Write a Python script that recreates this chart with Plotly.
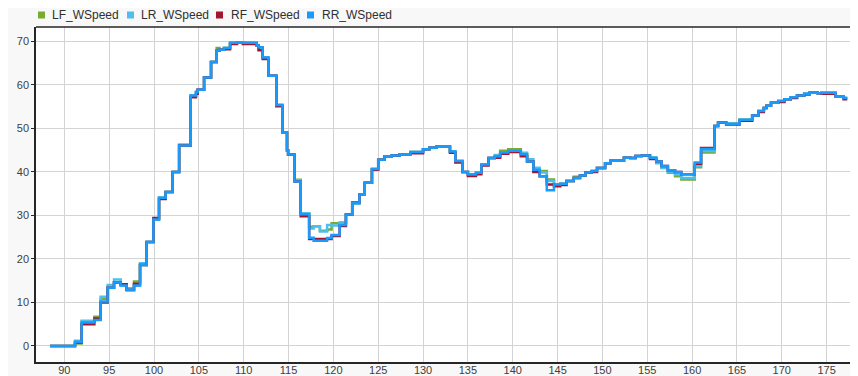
import plotly.graph_objects as go

# Step change times (s) shared by all four wheels
t = [88.4, 91.19, 91.93, 93.35, 94.05, 94.83, 95.54, 96.28, 96.95, 97.77,
     98.44, 99.18, 99.93, 100.56, 101.3, 102.08, 102.8, 104.09, 104.68, 104.87,
     105.58, 106.36, 106.99, 107.3, 107.8, 108.48, 109.26, 109.9, 111.45, 111.65,
     112.12, 112.75, 113.64, 114.31, 114.83, 114.95, 115.65, 116.36, 117.3, 117.8,
     118.5, 119.3, 119.8, 120.7, 121.4, 122.1, 122.9, 123.5, 124.3, 125.0,
     125.7, 126.5, 127.4, 128.6, 130.0, 130.7, 131.5, 133.0, 133.6, 134.4,
     135.0, 135.9, 136.5, 137.3, 138.0, 138.6, 139.5, 140.9, 141.6, 142.3,
     143.0, 143.8, 144.6, 145.3, 146.0, 146.8, 147.5, 148.1, 148.8, 149.4,
     150.3, 150.9, 152.4, 153.1, 153.7, 154.4, 155.3, 156.0, 156.6, 157.3,
     158.1, 158.8, 160.3, 161.0, 162.5, 162.9, 163.8, 165.3, 166.7, 167.4,
     168.0, 168.3, 168.8, 169.6, 170.3, 171.0, 171.7, 172.5, 173.1, 174.0,
     174.4, 176.0, 176.9, 177.3]

rr = [0.0, 1.0, 5.4, 6.0, 10.2, 13.4, 14.6, 13.9, 12.9, 13.9,
      18.6, 23.9, 29.1, 34.1, 35.4, 40.0, 46.1, 57.6, 58.4, 58.9,
      61.7, 65.3, 67.9, 68.1, 68.5, 69.7, 69.8, 69.7, 69.1, 68.7,
      66.3, 62.1, 55.4, 49.0, 45.0, 44.0, 37.8, 30.3, 24.9, 24.2,
      24.2, 24.8, 25.5, 27.8, 30.2, 32.8, 34.9, 37.5, 40.7, 42.8,
      43.6, 43.8, 44.1, 44.6, 45.2, 45.6, 45.8, 44.7, 42.5, 40.0,
      39.4, 39.8, 41.7, 43.2, 43.6, 44.5, 44.9, 44.1, 42.4, 40.5,
      39.0, 35.8, 37.1, 37.3, 37.9, 38.6, 39.2, 39.9, 40.2, 40.9,
      42.0, 42.6, 43.3, 43.2, 43.7, 43.8, 43.3, 42.4, 41.4, 40.4,
      40.0, 39.5, 42.2, 45.3, 50.6, 51.4, 51.1, 52.0, 53.0, 54.0,
      54.7, 55.2, 55.9, 56.3, 56.7, 57.2, 57.6, 58.0, 58.2, 58.1,
      58.2, 57.3, 57.0, 57.0]

lf = [0.0, 0.6, 5.6, 6.7, 10.8, 13.4, 14.6, 14.2, 12.9, 14.8,
      18.6, 23.9, 29.1, 34.1, 35.4, 40.0, 46.1, 57.6, 58.4, 58.9,
      61.7, 65.3, 68.5, 68.1, 68.5, 69.7, 69.8, 69.7, 69.1, 68.7,
      66.3, 62.1, 55.4, 49.0, 45.0, 44.0, 38.2, 30.5, 27.4, 27.5,
      26.5, 26.8, 28.2, 28.4, 30.2, 32.8, 34.9, 37.5, 40.7, 42.8,
      43.6, 43.8, 44.1, 44.6, 45.2, 45.6, 45.8, 44.7, 42.5, 40.0,
      39.4, 39.8, 41.7, 43.2, 43.6, 44.9, 45.2, 44.1, 42.4, 40.3,
      40.2, 38.3, 37.1, 37.3, 37.9, 38.9, 39.2, 39.9, 40.2, 40.9,
      42.0, 42.6, 43.3, 43.2, 43.7, 43.8, 43.3, 42.4, 40.9, 39.8,
      39.0, 38.3, 41.1, 44.5, 50.6, 51.4, 51.1, 52.0, 53.0, 54.0,
      54.7, 55.2, 55.9, 56.3, 56.7, 57.2, 57.6, 58.0, 58.2, 58.1,
      58.2, 57.3, 57.0, 57.0]

lr = [0.0, 1.2, 5.8, 6.1, 11.3, 14.0, 15.3, 13.9, 13.3, 13.9,
      19.0, 23.9, 29.1, 34.1, 35.4, 40.0, 46.3, 57.6, 58.4, 58.9,
      61.7, 65.3, 67.9, 68.1, 68.5, 69.7, 69.8, 69.7, 69.1, 68.7,
      66.3, 62.1, 55.4, 49.0, 45.0, 44.0, 38.1, 30.5, 27.0, 27.5,
      26.3, 27.8, 27.7, 28.2, 30.2, 32.8, 34.9, 37.5, 40.7, 42.8,
      43.6, 43.8, 44.1, 44.6, 45.2, 45.6, 45.8, 44.7, 42.5, 40.0,
      39.4, 39.8, 41.7, 43.2, 43.9, 44.5, 44.9, 44.4, 42.9, 41.0,
      39.9, 37.9, 37.1, 37.3, 37.9, 38.6, 39.2, 39.9, 40.2, 40.9,
      42.0, 42.6, 43.3, 43.2, 43.7, 43.8, 43.3, 42.0, 41.0, 40.0,
      39.4, 38.6, 41.4, 44.8, 50.6, 51.4, 51.1, 52.0, 53.0, 54.0,
      54.7, 55.2, 55.9, 56.3, 56.7, 57.2, 57.6, 58.0, 58.2, 58.1,
      58.2, 57.3, 57.0, 57.0]

rf = [0.0, 0.8, 5.0, 6.3, 10.0, 13.4, 14.6, 14.2, 12.9, 14.3,
      18.6, 23.9, 29.4, 33.8, 35.4, 40.0, 46.1, 57.2, 58.0, 58.9,
      61.7, 65.3, 67.9, 68.1, 68.2, 69.4, 69.8, 69.4, 69.1, 68.0,
      66.0, 62.1, 55.1, 49.0, 45.0, 44.0, 37.8, 29.8, 24.6, 24.6,
      24.6, 24.6, 25.3, 27.6, 30.2, 33.0, 34.9, 37.5, 40.5, 42.8,
      43.6, 43.8, 44.1, 44.3, 45.2, 45.6, 45.8, 44.4, 42.2, 40.0,
      39.1, 39.5, 41.5, 43.2, 43.3, 44.2, 44.6, 43.6, 42.4, 40.0,
      39.0, 37.1, 36.7, 37.0, 37.9, 38.6, 39.2, 39.9, 40.0, 40.9,
      42.0, 42.6, 43.3, 43.2, 43.7, 43.8, 43.0, 42.4, 41.4, 40.4,
      40.0, 39.5, 41.9, 45.5, 50.6, 51.4, 50.9, 51.8, 53.0, 53.8,
      54.7, 55.2, 55.9, 56.1, 56.7, 57.0, 57.6, 57.8, 58.2, 58.1,
      58.0, 57.3, 56.7, 56.7]

names = ["LF_WSpeed", "LR_WSpeed", "RF_WSpeed", "RR_WSpeed"]
colors = ["#77ac30", "#4dbeee", "#a2142f", "#1a9bfc"]
series = [lf, lr, rf, rr]

fig = go.Figure()
for name, col, vals in zip(names, colors, series):
    fig.add_trace(go.Scatter(x=t, y=vals, mode="lines", line=dict(color=col, width=2.5, shape="hv"),
                             name=name, showlegend=False))

# Legend drawn as squares + text above the plot (pixel offsets from the plot's top-left corner)
sq_off = [2, 91, 180, 271]
txt_off = [14, 103, 193, 284]
for name, col, so, to in zip(names, colors, sq_off, txt_off):
    fig.add_shape(type="rect", xref="paper", yref="paper", xsizemode="pixel", ysizemode="pixel",
                  xanchor=0, yanchor=1, x0=so, x1=so + 7, y0=8.5, y1=15.5,
                  fillcolor=col, line=dict(width=0))
    fig.add_annotation(text=name, xref="paper", yref="paper", x=0, y=1, xanchor="left",
                       yanchor="middle", xshift=to, yshift=12, showarrow=False,
                       font=dict(size=12, color="#303030"))

fig.update_layout(
    width=850, height=368,
    margin=dict(l=28, r=0, t=19, b=14),
    paper_bgcolor="#f8f8f8", plot_bgcolor="#ffffff",
    font=dict(family="Liberation Sans, Arial, sans-serif", size=11, color="#404040"),
    showlegend=False,
)
fig.update_xaxes(range=[86.84, 178.5], tick0=90, dtick=5, showgrid=True, gridcolor="#d3d3d3",
                 gridwidth=1, zeroline=False, showline=True, linecolor="#262626", linewidth=1.5,
                 ticks="", automargin=False, ticklabelstandoff=-3,
                 tickfont=dict(size=11, color="#404040"))
fig.update_yaxes(range=[-3.68, 73.33], tick0=0, dtick=10, showgrid=True, gridcolor="#d3d3d3",
                 gridwidth=1, zeroline=False, showline=True, linecolor="#262626", linewidth=1.5,
                 ticks="outside", ticklen=3, tickcolor="#262626", automargin=False,
                 tickfont=dict(size=11, color="#404040"))
# top border line
fig.add_shape(type="line", xref="paper", yref="paper", x0=0, x1=1, y0=1, y1=1,
              line=dict(color="#262626", width=1.5))

fig.write_html("out.html")
